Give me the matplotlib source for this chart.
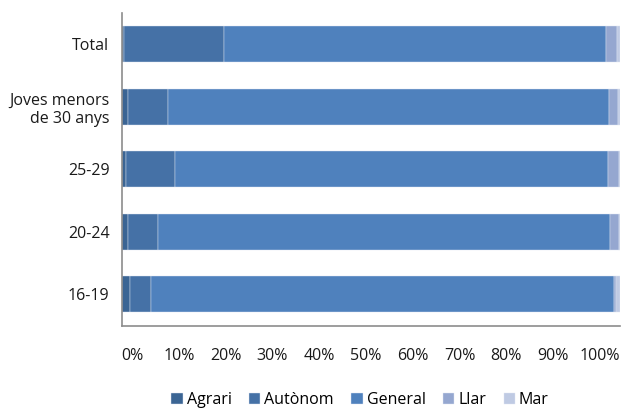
import numpy as np
import matplotlib.pyplot as plt
from matplotlib.transforms import ScaledTranslation

plt.rcParams['font.family'] = ['Open Sans', 'DejaVu Sans']

categories = ['16-19', '20-24', '25-29', 'Joves menors\nde 30 anys', 'Total']
series = ['Agrari', 'Autònom', 'General', 'Llar', 'Mar']
agrari = [1.6, 1.3, 0.9, 1.3, 0.5]
autonom = [4.2, 6.0, 9.8, 8.0, 20.0]
general = [93.0, 90.6, 86.9, 88.5, 76.7]
llar = [0.4, 1.8, 2.1, 1.7, 2.2]
mar = [0.8, 0.3, 0.3, 0.5, 0.6]
colors = ['#3b6594', '#4571a6', '#4f81bd', '#95a7d0', '#bfcae3']
xticks = [0, 10, 20, 30, 40, 50, 60, 70, 80, 90, 100]

fig = plt.figure(figsize=(6.23, 4.08), dpi=100)
ax = fig.add_axes([122/623, 1-326/408, 498/623, 313/408])

y = np.arange(len(categories))
left = np.zeros(len(categories))
for name, vals, c in zip(series, [agrari, autonom, general, llar, mar], colors):
	ax.barh(y, vals, left=left, height=0.58, color=c, label=name,
		edgecolor='#dfe6f2', linewidth=0.3)
	left += np.array(vals)

fs = 11.5
ax.set_xlim(0, 100)
ax.set_ylim(-0.51, 4.5)
ax.set_yticks(y)
ax.set_yticklabels(categories, fontsize=fs, color='#1a1a1a', linespacing=1.15)
ax.set_xticks(xticks)
ax.set_xticklabels([f'{v}%' for v in xticks], fontsize=fs, color='#1a1a1a')
ax.tick_params(axis='both', length=0)
ax.tick_params(axis='x', pad=16)
ax.tick_params(axis='y', pad=9)

# excel spreads the labels evenly, slightly off the tick positions
for i, lab in enumerate(ax.get_xticklabels()):
	dx = (10 - 3 * i) / 100
	lab.set_transform(lab.get_transform() + ScaledTranslation(dx, 0, fig.dpi_scale_trans))

for s in ['top', 'right']:
	ax.spines[s].set_visible(False)
for s in ['left', 'bottom']:
	ax.spines[s].set_color('#8c8c8c')
	ax.spines[s].set_linewidth(1.2)

ax.legend(loc='lower center', bbox_to_anchor=(0.578, -0.035), bbox_transform=fig.transFigure,
	ncol=5, frameon=False, fontsize=fs, handlelength=0.7, handleheight=0.7,
	handletextpad=0.25, columnspacing=1.1)

fig.savefig('out.png', dpi=100)
